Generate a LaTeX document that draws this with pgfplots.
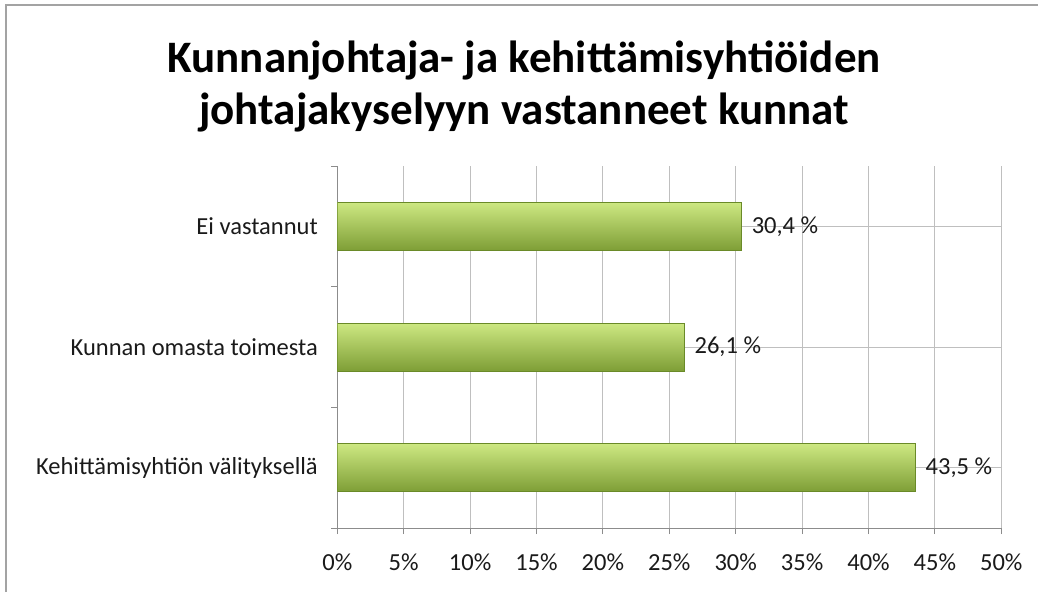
\documentclass[border=0pt]{standalone}
\usepackage{fontspec}
\setmainfont{Carlito}
\usepackage{pgfplots}
\pgfplotsset{compat=1.18}

\definecolor{grid}{HTML}{8C8C8C}
\definecolor{bartop}{HTML}{CDE882}
\definecolor{barmid}{HTML}{A4C754}
\definecolor{barbot}{HTML}{7E9E36}
\definecolor{baredge}{HTML}{6A8A28}
\definecolor{txt}{HTML}{1A1A1A}

\begin{document}
\begin{tikzpicture}[x=1pt,y=1pt]
  \useasboundingbox (0,0) rectangle (1038,592);
  \draw[grid!80, line width=1.2pt] (6,0) -- (6,587) -- (1038,587);
  \node[font=\bfseries\fontsize{45}{52}\selectfont, align=center, text=black, inner sep=0pt]
    at (524,506) {Kunnanjohtaja- ja kehittämisyhtiöiden\\johtajakyselyyn vastanneet kunnat};
  \begin{axis}[
    at={(254,53)}, anchor=south west,
    scale only axis, width=664pt, height=362pt,
    xmin=0, xmax=50, ymin=-0.5, ymax=2.5,
    xtick={0,5,...,50},
    xticklabel={\pgfmathprintnumber{\tick}\%},
    /pgf/number format/assume math mode=true,
    ytick={0,1,2},
    yticklabels={Kehittämisyhtiön välityksellä, Kunnan omasta toimesta, Ei vastannut},
    minor ytick={-0.5,0.5,1.5,2.5},
    axis lines*=left,
    axis line style={grid, line width=1pt},
    tick align=outside,
    major tick length=6pt, minor tick length=6pt,
    major y tick style={draw=none},
    minor y tick style={grid, line width=1pt},
    major x tick style={grid, line width=1pt},
    xmajorgrids,
    major grid style={grid, line width=1pt},
    ticklabel style={font=\fontsize{24.5}{26}\selectfont, text=txt},
    yticklabel style={xshift=-10pt},
    xticklabel style={yshift=-16pt},
    xbar, bar width=48pt, bar shift=0pt,
    nodes near coords={\pgfmathprintnumber[use comma,fixed,fixed zerofill,precision=1]{\pgfplotspointmeta}~\%},
    point meta=x,
    every node near coord/.append style={font=\fontsize{24.5}{26}\selectfont, text=txt, xshift=7pt},
    bar style/.style={draw=baredge, line width=0.8pt, top color=bartop, middle color=barmid, bottom color=barbot},
  ]
    \addplot[bar style] coordinates {(43.5,0)};
    \addplot[bar style] coordinates {(26.1,1)};
    \addplot[bar style] coordinates {(30.4,2)};
  \end{axis}
\end{tikzpicture}
\end{document}
